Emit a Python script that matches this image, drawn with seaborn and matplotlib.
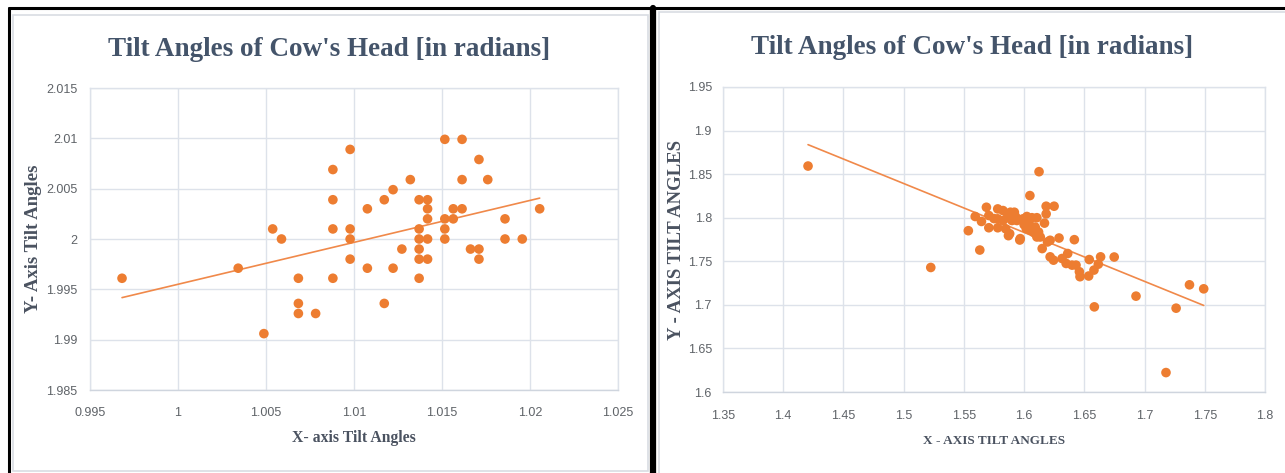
import numpy as np
import pandas as pd
import matplotlib
matplotlib.use("Agg")
import matplotlib.pyplot as plt
from matplotlib.patches import Rectangle
from matplotlib.ticker import FuncFormatter, MultipleLocator
import seaborn as sns

# ── Data ─────────────────────────────────────────────────────────────────────
left_x = [0.99682, 1.00342, 1.00488, 1.00538, 1.00588, 1.00684, 1.00684, 1.00684,
          1.00782, 1.0088, 1.0088, 1.0088, 1.0088, 1.00978, 1.00978, 1.00978,
          1.00978, 1.01076, 1.01076, 1.01172, 1.01172, 1.01222, 1.01222, 1.01272,
          1.0132, 1.0137, 1.0137, 1.0137, 1.0137, 1.0137, 1.0137, 1.01418,
          1.01418, 1.01418, 1.01418, 1.01418, 1.01516, 1.01516, 1.01516, 1.01516,
          1.01564, 1.01564, 1.01614, 1.01614, 1.01614, 1.01662, 1.0171, 1.0171,
          1.0171, 1.0176, 1.01858, 1.01858, 1.01956, 1.02055]
left_y = [1.9961, 1.9971, 1.9906, 2.0010, 2.0000, 1.9961, 1.9936, 1.9926,
          1.9926, 2.0069, 2.0039, 2.0010, 1.9961, 2.0089, 2.0010, 2.0000,
          1.9980, 2.0030, 1.9971, 2.0039, 1.9936, 2.0049, 1.9971, 1.9990,
          2.0059, 2.0039, 2.0010, 2.0000, 1.9990, 1.9980, 1.9961, 2.0039,
          2.0030, 2.0020, 2.0000, 1.9980, 2.0099, 2.0020, 2.0010, 2.0000,
          2.0030, 2.0020, 2.0099, 2.0059, 2.0030, 1.9990, 2.0079, 1.9990,
          1.9980, 2.0059, 2.0020, 2.0000, 2.0000, 2.0030]

right_x = [1.4206, 1.5225, 1.5537, 1.5632, 1.6124, 1.6048, 1.6583, 1.6929,
           1.7178, 1.7262, 1.7373, 1.7491, 1.6748,
           1.5594, 1.5646, 1.5687, 1.5707, 1.5707, 1.5750, 1.5781, 1.5781,
           1.5781, 1.5825, 1.5825, 1.5847, 1.5860, 1.5880, 1.5886, 1.5899,
           1.5919, 1.5930, 1.5940, 1.5968, 1.5990, 1.6000, 1.6023, 1.6018,
           1.6040, 1.6051, 1.6065, 1.6080, 1.6092, 1.6106, 1.6106, 1.6120,
           1.6134, 1.6150, 1.6169, 1.6183, 1.6183, 1.6194, 1.6216, 1.6249,
           1.6290, 1.6417, 1.6216, 1.6244, 1.6315, 1.6349, 1.6362, 1.6398,
           1.6431, 1.6459, 1.6464, 1.6541, 1.6536, 1.6580, 1.6616, 1.6635,
           1.5870, 1.5964]
right_y = [1.8593, 1.7429, 1.7851, 1.7629, 1.8528, 1.8254, 1.6977, 1.7100,
           1.6223, 1.6962, 1.7230, 1.7184, 1.7549,
           1.8014, 1.7957, 1.8120, 1.8025, 1.7885, 1.7990, 1.8101, 1.7987,
           1.7885, 1.8082, 1.7968, 1.7873, 1.8000, 1.7817, 1.8063, 1.7968,
           1.8063, 1.8010, 1.7968, 1.7760, 1.7987, 1.7920, 1.8014, 1.7874,
           1.7950, 1.7855, 1.8000, 1.7830, 1.7893, 1.8000, 1.7779, 1.7836,
           1.7779, 1.7646, 1.7938, 1.8044, 1.8132, 1.7722, 1.7741, 1.8132,
           1.7767, 1.7748, 1.7551, 1.7513, 1.7532, 1.7475, 1.7589, 1.7456,
           1.7456, 1.7380, 1.7323, 1.7520, 1.7331, 1.7399, 1.7467, 1.7551,
           1.7794, 1.7744]

TITLE = "Tilt Angles of Cow's Head [in radians]"
left_xlabel, left_ylabel = "X- axis Tilt Angles", "Y- Axis Tilt Angles"
right_xlabel, right_ylabel = "X - AXIS TILT ANGLES", "Y - AXIS TILT ANGLES"

ORANGE = "#ED7D31"
LINE = "#F0894A"
GRID = "#DDE2EA"
TICK = "#5F6368"
TITLE_C = "#44546A"
LABEL_C = "#4A5260"

sns.set_theme(style="whitegrid")
plt.rcParams["font.family"] = ["Liberation Sans", "DejaVu Sans"]

W, H = 1285, 473
fig = plt.figure(figsize=(W / 100, H / 100), dpi=100)
fig.patch.set_facecolor("white")


def px(x0, y0, x1, y1):
    return [x0 / W, 1 - y1 / H, (x1 - x0) / W, (y1 - y0) / H]


def style_axes(ax, xlim, ylim, step_x, step_y, nd_x, nd_y, xpad, ypad):
    ax.set_xlim(*xlim)
    ax.set_ylim(*ylim)
    ax.xaxis.set_major_locator(MultipleLocator(step_x))
    ax.yaxis.set_major_locator(MultipleLocator(step_y))
    ax.xaxis.set_major_formatter(FuncFormatter(lambda v, p: f"{round(v, nd_x):g}"))
    ax.yaxis.set_major_formatter(FuncFormatter(lambda v, p: f"{round(v, nd_y):g}"))
    ax.grid(True, color=GRID, lw=1)
    for s in ax.spines.values():
        s.set_color(GRID)
        s.set_linewidth(1)
    ax.spines["bottom"].set_color("#CFD5DE")
    ax.tick_params(axis="both", length=0, labelsize=9, colors=TICK)
    ax.tick_params(axis="x", pad=xpad)
    ax.tick_params(axis="y", pad=ypad)
    ax.set_facecolor("white")


# ── Left chart ───────────────────────────────────────────────────────────────
ax1 = fig.add_axes(px(90, 88, 618, 390))
left_df = pd.DataFrame({"x": left_x, "y": left_y})
sns.regplot(data=left_df, x="x", y="y", ax=ax1, scatter=False, ci=None,
            line_kws={"color": LINE, "lw": 1.2})
sns.scatterplot(data=left_df, x="x", y="y", ax=ax1, color=ORANGE, s=48,
                edgecolor="none", zorder=3)
style_axes(ax1, (0.995, 1.025), (1.985, 2.015), 0.005, 0.005, 3, 3, 12, 9)
ax1.set_xlabel(left_xlabel, family="Liberation Serif", fontweight="bold",
               fontsize=11.3, color=LABEL_C, labelpad=8)
ax1.set_ylabel(left_ylabel, family="Liberation Serif", fontweight="bold",
               fontsize=13.5, color=LABEL_C, labelpad=3)
fig.text(329.5 / W, 1 - 50 / H, TITLE, ha="center", va="center",
         family="Liberation Serif", fontweight="bold", fontsize=19.5, color=TITLE_C)

# ── Right chart ──────────────────────────────────────────────────────────────
ax2 = fig.add_axes(px(723, 87, 1265, 392))
right_df = pd.DataFrame({"x": right_x, "y": right_y})
sns.regplot(data=right_df, x="x", y="y", ax=ax2, scatter=False, ci=None,
            line_kws={"color": LINE, "lw": 1.2})
sns.scatterplot(data=right_df, x="x", y="y", ax=ax2, color=ORANGE, s=48,
                edgecolor="none", zorder=3)
style_axes(ax2, (1.35, 1.8), (1.6, 1.95), 0.05, 0.05, 2, 2, 13, 8)
ax2.set_xlabel(right_xlabel, family="Liberation Serif", fontweight="bold",
               fontsize=9.5, color=LABEL_C, labelpad=9)
ax2.set_ylabel(right_ylabel, family="Liberation Serif", fontweight="bold",
               fontsize=13.5, color=LABEL_C, labelpad=2)
fig.text(972 / W, 1 - 47 / H, TITLE, ha="center", va="center",
         family="Liberation Serif", fontweight="bold", fontsize=19.5, color=TITLE_C)

# ── Panel frames ─────────────────────────────────────────────────────────────
fig.patches.append(Rectangle((13 / W, 1 - 471 / H), 635 / W, 456 / H,
                             transform=fig.transFigure, fill=False,
                             edgecolor="#D9DDE3", lw=1.2))
fig.patches.append(Rectangle((659 / W, 1 - 480 / H), 640 / W, 468 / H,
                             transform=fig.transFigure, fill=False,
                             edgecolor="#D9DDE3", lw=1.2))
fig.add_artist(plt.Line2D([9 / W, 1], [1 - 8 / H, 1 - 8 / H], color="black", lw=2.2))
fig.add_artist(plt.Line2D([9 / W, 9 / W], [0, 1 - 8 / H], color="black", lw=2.2))
fig.add_artist(plt.Line2D([653 / W, 653 / W], [0, 1 - 8 / H], color="black", lw=4.5))

fig.savefig("out.png", dpi=100)
